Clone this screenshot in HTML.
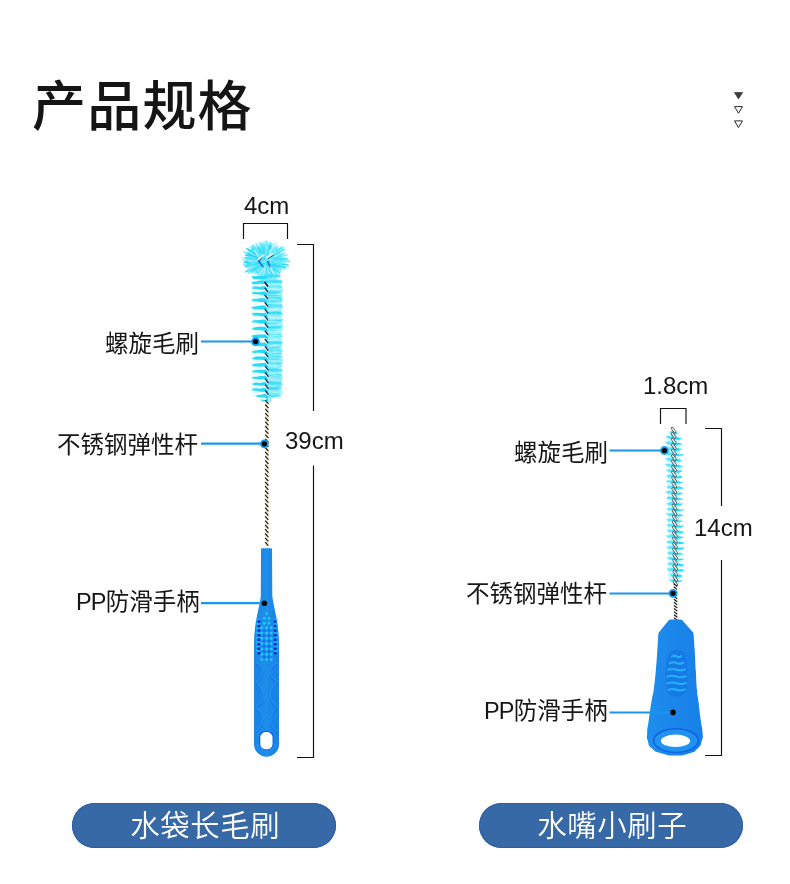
<!DOCTYPE html>
<html lang="zh-CN">
<head>
<meta charset="utf-8">
<title>产品规格</title>
<style>
html,body{margin:0;padding:0;background:#fff;}
body{width:790px;height:884px;overflow:hidden;position:relative;font-family:"Liberation Sans","Noto Sans CJK SC",sans-serif;color:#1a1a1a;}
#stage{position:absolute;left:0;top:0;width:790px;height:884px;overflow:hidden;background:#fff;}
#art{position:absolute;left:0;top:0;width:790px;height:884px;}
.t{position:absolute;white-space:nowrap;line-height:1;margin:0;font-weight:400;will-change:transform;}
h1.t{font-family:"Liberation Sans","Noto Sans CJK SC",sans-serif;font-weight:500;font-size:54px;left:32px;top:79.5px;letter-spacing:1.2px;color:#151515;}
.lab{font-size:23.5px;color:#161616;font-family:"Liberation Sans","Noto Sans CJK SC",sans-serif;}
.pp{letter-spacing:-.8px;}
.dim{font-size:24px;color:#161616;}
.pill{position:absolute;height:45px;width:264px;border-radius:23px;background:#3869a7;box-shadow:inset 0 0 0 1px #2c5ea3;}
.pill span{position:absolute;left:0;right:0;top:0;text-align:center;line-height:45px;font-size:29.4px;letter-spacing:.6px;padding-left:2.6px;color:#fff;font-weight:350;font-family:"Liberation Sans","Noto Sans CJK SC",sans-serif;will-change:transform;}
</style>
</head>
<body>
<div id="stage">
<svg id="art" width="790" height="884" viewBox="0 0 790 884">
<defs><filter id="b1" x="-20%" y="-20%" width="140%" height="140%"><feGaussianBlur stdDeviation="1.2"/></filter><filter id="b0" x="-20%" y="-10%" width="140%" height="120%"><feGaussianBlur stdDeviation=".45"/></filter><filter id="b00" x="-50%" y="-10%" width="200%" height="120%"><feGaussianBlur stdDeviation=".3"/></filter><radialGradient id="tuft"><stop offset="0" stop-color="#22d6f6" stop-opacity=".95"/><stop offset=".5" stop-color="#34ddf8" stop-opacity=".85"/><stop offset=".8" stop-color="#66e9fb" stop-opacity=".5"/><stop offset="1" stop-color="#a8f4fd" stop-opacity="0"/></radialGradient><linearGradient id="hL" x1="0" y1="0" x2="1" y2="0"><stop offset="0" stop-color="#1a86e6"/><stop offset=".5" stop-color="#1d8ee9"/><stop offset="1" stop-color="#1782e4"/></linearGradient><linearGradient id="hR" x1="0" y1="0" x2="1" y2="0"><stop offset="0" stop-color="#1e8eec"/><stop offset=".5" stop-color="#1b86ea"/><stop offset="1" stop-color="#1880e8"/></linearGradient></defs>
<path d="M243.5 239V223.5H287.5V239M297 244.5H313.5V411M313.5 465.5V757.5H297M660.5 424V408.5H686V424M705 428.5H721.5V506M721.5 560V755.5H705" fill="none" stroke="#111" stroke-width="1.15"/>
<path d="M734.4 92.5h8.2l-4.1 6.5z" fill="#3c3c3c" stroke="#2a2a2a" stroke-width=".6"/>
<path d="M734.5 106.6h8l-4 6.6zM734.5 120.9h8l-4 6.6z" fill="#fff" stroke="#2a2a2a" stroke-width="1"/>
<g id="brushL"><g filter="url(#b0)"><ellipse cx="265.2" cy="260.2" rx="23.5" ry="19.5" fill="url(#tuft)"/><path d="M263.6 267.1L260.6 273.2M262.5 265L261.1 272.9M262.6 261L247.2 262.5M264.4 262.7L258.7 271.7M272 262.3L287.3 264.8M264.9 269.4L264.5 278.2M270.3 261.6L282.7 265.6M267.1 255.9L266.7 241.7M258.7 258.8L248.4 255.4M267.7 257L270 245.8M272.6 259.5L282.6 258.9M267.3 256.7L280 253.8" stroke="#2adaf8" stroke-width="1.3" stroke-opacity="0.75" fill="none" stroke-linecap="round"/><path d="M266.9 261.6L281.5 267.2M262 259.8L251 258.9M261 260L249.2 257.6M265.3 257.4L267.1 244.9M261.4 260.7L250.7 257.4M266.6 262.8L268.8 277.7M267.8 262L268 273.3M266.3 267.7L266.9 272.4M269.1 257.8L282.8 248.4M260.3 255.4L252.9 248.2M260 264.8L255.6 272M258.5 262.2L251.5 263.7" stroke="#30ddf9" stroke-width="1.3" stroke-opacity="0.75" fill="none" stroke-linecap="round"/><path d="M262.9 263.6L247.3 271.6M271.7 262.6L288.5 265.1M271.6 260.1L289.9 261.4M262.7 251.1L260.3 243.6M267.8 261.3L276.4 270.8M263.1 265.2L258 273.1M271.2 263.7L280.3 271.2M268 263.3L275.3 272.9M264.5 265.2L264.5 275.7M260.8 253.8L256.9 249.3M269.7 265.7L276.4 274.6M270 253.3L273.4 248.2M266.6 252.1L266.6 247.8M269.8 262L276.9 264.6M263.8 257.3L254.8 247.7" stroke="#22d8f7" stroke-width="1.3" stroke-opacity="0.75" fill="none" stroke-linecap="round"/><path d="M261.6 258.6L253.1 253.5M269.6 257.8L282.9 255.3M265 257.1L264.1 244.8M270.6 259.8L286 255.9M268.4 260.6L283.5 259.1M261 257.8L246.7 252M268.9 263.9L273.6 277.7M270.8 254.1L275.2 244.4M265.4 257.2L266.8 245.8M267.2 267L270.6 274.4M271.5 264.2L283.7 270.7M261.8 256.1L252.1 245.3M262.9 262.4L254 272M264.1 257L261.8 248.9M270.7 263.7L279.1 268.9" stroke="#c9f8fe" stroke-width="1.3" stroke-opacity="0.45" fill="none" stroke-linecap="round"/><path d="M259.2 258.6L246.8 255.4M270.4 263.5L279.7 273.8M268.1 262.8L273.1 271.6M263.7 265.1L263.3 279.5M270.2 254.8L273.8 250.6M264.5 256.8L263.2 244.8M264.3 258.9L260.8 248.4M258.9 263.5L252.5 265M272 259.1L286.7 258.8M269.1 261.6L280.9 269.5M258.4 260.9L245.5 258M264.6 269L261.6 276.3M271.1 255.3L275.2 249.5M267 265.1L275.3 278.6M262.3 261.1L250.4 266.2" stroke="#1bd2f3" stroke-width="1.3" stroke-opacity="0.6" fill="none" stroke-linecap="round"/><path d="M269 263.1L279.8 270.6M272.1 254.7L281.4 247.9M265.5 256.3L265.5 243.8M270.5 258L276 253.2M258 266.5L253.2 271.4M261.1 267.8L258.6 272.3M267.6 257.6L273.5 248.5M261.5 256L254.7 247.6M263.2 258L253.5 253.6M271.7 257.8L284.1 251" stroke="#c9f8fe" stroke-width="1.3" stroke-opacity="0.6" fill="none" stroke-linecap="round"/><path d="M260.8 262.3L243.6 266.1M267.9 259.3L281.2 247.5M265.8 254L267 245.2M260.9 264.5L256.1 270.5M263 263.4L260.1 280.1M261.1 263L251.1 271.1M263.9 269.8L262.7 276.4M264.1 264.7L262.9 274.8M267.3 258.9L274.3 252.6M267.8 261.1L281.7 264.5M268.7 261.6L279.6 273.4M271.9 254.7L278.5 249.4M269.2 264.9L268.8 273.9" stroke="#1bd2f3" stroke-width="1.3" stroke-opacity="0.45" fill="none" stroke-linecap="round"/><path d="M257.8 256L249.2 251.6M262.7 258.2L259.9 249M269.8 252.3L273.2 244.1M270 258.3L283.7 249.2M262.8 260.3L249 267.8M274.4 262.4L282.3 265.5M264.4 263.8L260.9 275M271.6 256.1L280.2 249.4M269.7 264.1L279.1 267.9M260.7 264.6L251.5 272.1M257 258.5L246.6 254.1M268.6 260.6L286.2 261.1M262.5 261.9L251.8 273.2M259 259.2L251.1 256" stroke="#30ddf9" stroke-width="1.3" stroke-opacity="0.45" fill="none" stroke-linecap="round"/><path d="M260.9 257.2L245.9 249.8M268.7 263.5L278 275M264 260.4L276.2 260M270.2 254.8L280.6 246.5M272.5 259.9L282.2 255.6M268.4 270.7L269.1 275M266.3 258.8L273.1 247.1M260.7 264.9L255.6 271.3M260.7 259.1L249.1 256.3M266.5 255.6L268.8 244.4M257 262.5L250.8 263.5M265.4 255.6L270.1 246.6M260.7 268.3L254.5 278.9M266.8 258.2L273.6 247.8M264.5 269.7L262.8 278.1M269.6 261.2L286.6 261.9M265.7 268.6L266.1 276.7" stroke="#e6fcff" stroke-width="1.3" stroke-opacity="0.45" fill="none" stroke-linecap="round"/><path d="M267.8 255.7L275.8 243.2M263 268.1L261.6 276.4M262.9 252.9L260.2 242.3M270.5 266L273.1 270.3M267.1 259.4L279.5 251.8M261.7 256.4L253.3 247.9M270.1 255.7L273.2 248.7M258.3 257.9L245.3 254.7M259.4 264L252.7 269.5M265.9 270.6L266.9 278.8M266.8 264.4L268.2 273.5M264.7 259.2L262.6 247M257.9 261.6L251.5 263.3M273.3 258.9L280.7 256.1M276 263.8L289 267.7M260.7 263L243 259.6M269.3 256.3L275.1 247.6" stroke="#7aecfb" stroke-width="1.3" stroke-opacity="0.75" fill="none" stroke-linecap="round"/><path d="M260.2 255.7L247.8 249.2M269.3 255.9L283.2 246.4M268.2 258L275.5 252.2M263.1 264.4L258.3 277.8M266.7 264.3L271.4 278M261.6 256.7L251.4 248.9M269.5 251.6L271.7 246.6M265.9 259.3L259.6 251.3M256.7 257.1L248.4 252.4M261 255.6L254.3 249.2M263.8 266.7L264.1 275.7M262.4 257.8L252.2 245.9M263.3 255.5L261.7 246.1M265.4 259.2L252.4 248M259 264.2L245.5 271.4" stroke="#2adaf8" stroke-width="1.3" stroke-opacity="0.45" fill="none" stroke-linecap="round"/><path d="M270.2 258.3L279.7 254.6M271 260.4L281.6 258.5M262.7 269.7L259.5 275.7M271 262.3L287.2 258.4M258.4 260.9L252.5 258.9M263.1 257.7L252.5 244.5M267.7 254.6L273.1 246.1M265.9 255.7L268 244.1M271.8 264.3L285.6 269.4M269.6 261.1L286.6 262.8M267.7 266L270.7 271.9M267.8 259.9L278.9 248M256.9 259.4L248.8 256.9M265.8 255.5L268.8 242.5" stroke="#7aecfb" stroke-width="1.3" stroke-opacity="0.45" fill="none" stroke-linecap="round"/><path d="M263.9 252.2L263.4 245.5M271 256.6L278.9 251.5M271 258.1L276.9 255.5M265.4 261.8L262.4 275.5M260.5 260.1L250.7 256.6M261.4 259.2L250 249.4M262.8 266.9L260.8 270.8M270.1 260.4L281.8 262.2M273.2 261.6L282.1 262.9M270.9 262.4L281.2 266.2M266.4 264.6L271.3 277.1M262.1 256.9L253.7 250.7M262.1 265.6L258 270.8M263.7 256.7L248.8 249.4M265.5 266.6L271.6 278.6" stroke="#c9f8fe" stroke-width="1.3" stroke-opacity="0.75" fill="none" stroke-linecap="round"/><path d="M257.3 257.7L243.7 251.6M269.1 264.3L276.6 268.5M262.4 261.1L252.2 260.8M264.9 264.7L264.6 278.5M262.9 266.9L260.1 275.2M270.4 256.3L276.3 250.1M269.9 255.8L276.3 250.9M262.2 260.2L245.4 257.4M266.8 256.1L271.3 246.2M267.5 265.8L274.3 277M256.7 261.7L243.9 262.5M265.8 264.3L266.9 274.2M261.7 263.3L256.5 272.7M264.6 261.9L268.7 271.3M263 258.5L264.7 244.8M257.4 262.2L247.3 264M261.3 258.2L250.9 249.9M269.6 257.2L276.5 249.5M257.7 263.3L252 265.3M264.3 267.2L264.7 275.4M266.2 263.8L271.6 277.8" stroke="#22d8f7" stroke-width="1.3" stroke-opacity="0.6" fill="none" stroke-linecap="round"/><path d="M267.9 262.4L280.5 272M256.2 258.8L241.5 257.8M265.7 257.3L273.3 247.5M268.1 266.5L270.8 273.6M259.5 256.8L251.9 250.7M258.3 253.8L253.1 249.5M267.9 258L271 249.1M268.3 261.5L282 262.7M264.3 263.8L265.5 273.5M267.5 265.2L272.6 272.8M268.1 260.3L279.3 251.6M263.5 260.6L251.1 265.9" stroke="#55e4fa" stroke-width="1.3" stroke-opacity="0.45" fill="none" stroke-linecap="round"/><path d="M261.3 266.5L257.7 270.7M262.1 262.7L250.2 269.1M268.3 259.3L280.2 250.4M261.8 254.3L255.3 249.5M260.3 262L250.1 266.4M266.3 252.2L267.8 242.5M274.8 260.6L280.6 259.4M267.8 266L275.6 276.4M259.2 256.4L251.4 252.3M266.1 257.5L267.9 243.3M270.7 257L275.6 250.2M267.9 268.7L270 275.5M265.6 261.7L249.3 259.8" stroke="#e6fcff" stroke-width="1.3" stroke-opacity="0.6" fill="none" stroke-linecap="round"/><path d="M268.8 265.1L276.9 269.9M259.7 265.3L248.3 273.4M262.1 257.4L248.3 249.4M263.3 258.1L257.5 247.3M267.5 260.4L280.3 262.2M264.3 267.5L260.1 277.3M267.6 254L269.6 245.3M268 263.8L279 276.3M258.7 254.2L255.1 250.6M259.9 266.6L253.7 271.8M268.6 257.3L285.1 249.3M269.4 265.8L276.4 276.3M265.4 266.7L265.1 274.3M264.8 258.4L268.6 247.6M264.4 259.7L254.3 268.1M262 265.1L257 271.1M268.1 257.2L276 249M265.3 261.4L274.7 270.4" stroke="#55e4fa" stroke-width="1.3" stroke-opacity="0.75" fill="none" stroke-linecap="round"/><path d="M265.2 261.9L260.9 275.9M264.9 259.7L253 255.9M264.7 266.3L261.1 275.9M266.6 258.8L277.7 251.8M272.8 263.5L283.3 266.9M268.7 258.6L281.7 257.5M265.6 264.5L273 274.5M264 258.7L265.3 240.8M272 261L280.9 260.8M258.8 260.5L248.6 259.8M272.6 263L284.5 268.4M269.1 257L278.2 248.9M255.8 258.8L248.5 255.6M264.5 258.7L257.5 251.4M273.5 263.4L286 268.4M260.4 265.8L253.3 271.8M270.6 255.2L277.5 246.5M269.1 254.5L272.6 250.8M269.4 263.1L280.6 267.1" stroke="#55e4fa" stroke-width="1.3" stroke-opacity="0.6" fill="none" stroke-linecap="round"/><path d="M265.6 257.2L271.7 243.9M259 256.4L246.9 249.3M261.8 266.3L260.6 275.4M271.7 262.5L283.4 264.9M268 253.4L271.1 246.8M260.1 264.9L252.9 270M275.1 257.6L287.9 254.8M259.9 252.9L255.3 246.9M265.2 255.2L262.9 242M261.4 253.4L256 243.6M257.8 253.9L250.2 246.6M263.6 252.2L261.5 244.1" stroke="#22d8f7" stroke-width="1.3" stroke-opacity="0.45" fill="none" stroke-linecap="round"/><path d="M265.2 256.7L268.3 244.6M273.4 264.4L278.9 265.7M264.2 268.8L262.3 282.1M261.2 263.3L254.7 270.1M264.9 262.7L272.7 276.6M263.2 264.3L258.1 272.8M262.5 254.5L258.8 246.9M272.3 258.7L287.1 259.6M258 265.1L245 272.2M260.4 263.4L249.7 271.1" stroke="#2adaf8" stroke-width="1.3" stroke-opacity="0.6" fill="none" stroke-linecap="round"/><path d="M274.1 260.1L281.6 259.4M266.1 263.9L285.4 267.3M260.8 257.6L245.7 255.1M260.2 261.9L244.5 262M265.4 264.2L262.2 280M265.9 266.5L267.8 275.9M260.7 260.9L246.2 267M259.9 257.2L246.8 248.6M261.6 262.5L246 266.2M261 260.3L247.8 253.6M267.6 256L270.4 242.3M270.1 258.2L279.1 251.7M264.2 259.2L259.2 251.1M267.3 264L274.1 270.7" stroke="#1bd2f3" stroke-width="1.3" stroke-opacity="0.75" fill="none" stroke-linecap="round"/><path d="M263.4 268.3L259.4 276.1M268.2 258.5L275.4 252M269.2 254.1L274.5 242.9M269.5 265L274.3 274.4M259.5 260.8L248.4 260.9M265.4 265.5L262.7 279.5M259.5 258.8L255.1 250.8" stroke="#e6fcff" stroke-width="1.3" stroke-opacity="0.75" fill="none" stroke-linecap="round"/><path d="M263.7 258.7L256.5 249.5M263.8 258.3L252.7 245.8M263.2 254.6L263.5 247.4M255.5 262.2L244 264.7M274 260L287 258.4M258.5 260.1L247.2 259.8M266.8 251.5L268.4 246.5M273.6 258.3L285.2 253.2M269.3 261L282.7 262.5M264.5 258L261.9 246.6" stroke="#30ddf9" stroke-width="1.3" stroke-opacity="0.6" fill="none" stroke-linecap="round"/><path d="M274.7 260.2L290 259.2M266.2 266.9L266.6 276M263.9 266.5L262.7 277M274.2 261.2L284.5 262.3M265.5 263.6L269.5 279.4M266.9 256.9L267 241M268.8 259.2L279.3 255.3M258.3 262.1L249.8 262.3M266.4 254.8L269.2 249.5M270.5 260.3L282.2 264.3M263.7 256.8L254.5 246.7M256.6 262.7L251.1 264M262.1 250.8L259.6 242.4M269.2 259L276.7 245.6M270.1 256.4L282.2 249.1M265.5 254.5L266.7 245.9M263.9 264.2L258.3 275.8M269.1 257.8L275.9 250.7M261.6 262.7L248.3 271M265.6 258.1L268.4 247.7" stroke="#7aecfb" stroke-width="1.3" stroke-opacity="0.6" fill="none" stroke-linecap="round"/><path d="M266.4 274L276.7 274L278.2 275.7L277.4 277.5L276.9 279.5L281.5 281.1L282.5 282.7L281.7 284.4L281.5 286.1L282.7 288.2L283.4 290.3L282.1 292.1L282.4 294.3L282.3 295.9L282.9 297.2L281.3 299.1L282.9 301.2L281.2 303.1L281.5 305.1L282.8 306.3L283 308.2L281.6 309.6L281.3 311.7L283.1 313.8L281.6 315.8L281.4 317.7L283.2 319.2L282.1 320.8L282.3 322.8L282.7 324.6L283.5 326.7L282.1 328.1L282.9 330.1L281.3 332.2L282.3 334.1L282.1 336.3L281.3 338.4L281.7 339.9L281.6 341.7L282 343.6L282 345.4L281.3 347.3L282.2 349.3L283.2 351.1L281.4 352.9L282.1 354.6L282.4 356.7L283 358.5L282.6 359.8L282.9 361.6L282.1 363.7L283 365.6L280.7 367.5L282.5 369L282.8 370.5L282.3 372.2L282 374.4L281.7 375.8L282.7 377.3L281.2 379L282 380.7L281.9 382.7L281.9 384.4L281.9 385.8L282.1 387.9L280.7 389.6L282.2 391.7L277.3 393.5L278.7 394.8L277.5 396.3L271.8 398.4L271.6 400L271.7 401.8L267 403Z" fill="#74e9fb" opacity=".7"/><path d="M266.4 276L252.5 279L251.5 396L267 402Z" fill="#c6f7fd" opacity=".3"/><path d="M266.9 275.5L263.3 275.9L259.9 276.1L256.4 276.3L252.2 276L250.6 276.4L253.7 276.9L251.2 277.2L253.7 277.8L251.3 278.1L253.4 278.6L251.9 278.8L256.3 279.3L259.4 279L263.4 279.5L266.9 279.5ZM266.9 280.6L263.2 280.6L259.8 280.6L256.2 281.4L252.1 281.7L250.7 281.6L252.8 282.1L250.6 282.4L252.7 282.9L251 283.2L252.9 283.7L252.6 284.2L256 284.3L259.6 283.8L263.2 284.2L266.9 284.6ZM266.9 285.8L263.5 286.2L259.9 286.7L255.9 286.5L253 286.6L251.8 286.8L254 287.2L250.7 287.6L253.8 288.1L251.6 288.4L253 288.9L253.2 289.1L255.9 288.7L260.1 289.8L263.5 289.8L266.9 289.8ZM267 291.3L263.3 291.6L259.8 292.1L256.6 292.2L252.6 291.8L251.2 292.2L254 292.8L250.7 293.1L253.7 293.6L251.6 293.9L253.8 294.4L253.1 294.1L255.9 294.3L259.7 294.6L263.3 295.2L267 295.3ZM267 298.3L263.2 298.2L259.7 298.3L256.2 299.1L252.6 298.7L251.5 299.2L253.9 299.8L250.3 300.1L253.5 300.6L251.4 300.9L252.9 301.4L252 301L255.7 301.3L260 302.1L263.4 301.9L267 302.3ZM267 305.6L263.3 305.4L259.8 305.7L255.6 306.6L252.1 306.8L250.6 306.6L252.9 307.1L250 307.4L253.8 307.9L251 308.2L253.2 308.7L252.8 309.2L256 308.9L259.9 309.5L263.5 309.5L267 309.6ZM267.1 312.5L263.6 313.1L259.9 313.1L256.2 312.8L253 313L250.7 313.4L253.7 313.9L251.2 314.2L254.1 314.8L251.8 315.1L254.3 315.6L252.3 316L256.8 315.5L260 316.1L263.6 316.6L267.1 316.5ZM267.1 319.4L263.3 319.5L259.7 320.1L255.6 320.2L252.7 320.5L251 320.4L253.4 320.9L250.5 321.2L254.2 321.7L251.2 322L252.8 322.5L251.7 322.6L256.1 322.6L259.7 323.4L263.3 323.4L267.1 323.4ZM267.1 326.7L263.6 326.7L259.7 326.7L256.3 326.9L252.7 328L251.5 327.6L253.5 328.1L250.7 328.4L254.1 328.9L251.3 329.2L254.2 329.8L252.1 329.4L256 330.3L259.5 330.1L263.3 330.8L267.1 330.7ZM267.2 334.1L263.7 334.5L259.9 334.6L256.1 334.8L252.9 335L251.4 335.1L253.4 335.6L251.1 335.9L253.1 336.4L250.7 336.7L254.7 337.2L253.1 337.3L256.4 337.9L259.7 337.8L263.7 337.9L267.2 338.1ZM267.2 342.3L263.4 342.7L259.9 342.5L256.2 343.4L252.6 343.4L250.4 343.2L252.7 343.8L251.5 344.1L253.9 344.6L251.2 344.9L253.3 345.4L252.6 345.3L256.3 346L259.8 346.3L263.4 346.1L267.2 346.3ZM267.3 349.7L263.5 349.6L259.7 349.8L256.4 350.4L252.8 350.9L251.1 350.6L253.5 351.1L251.1 351.4L253.9 351.9L250.8 352.2L253.5 352.8L252.8 353.2L256.2 352.7L259.8 352.8L263.7 353.6L267.3 353.7ZM267.3 356.2L263.9 356.6L260.5 356.4L256.2 356.6L253.6 357.4L250.9 357.1L253.7 357.6L251.7 357.9L253.3 358.4L251.6 358.8L253.8 359.2L253.3 359.2L256.2 359.8L260.3 359.7L263.7 359.9L267.3 360.2ZM267.3 362.8L263.7 363L260 363.2L256.6 363.5L253 364L250.9 363.8L254.6 364.2L251.5 364.6L253.2 365.1L250.7 365.4L253.5 365.9L252.7 366.2L256.9 366.4L260 366.8L263.6 366.3L267.3 366.8ZM267.4 369.4L263.8 369.8L260.2 369.7L256.4 370.1L253.2 370.5L251.7 370.4L253.7 370.9L251.4 371.2L253.3 371.7L251.2 372L254.4 372.5L253.3 372.5L257 372.4L260.1 373.1L263.7 373.2L267.4 373.4ZM267.4 375.7L263.6 375.9L260 375.9L256.6 376.7L253.1 376.7L250.5 376.6L254.4 377.1L251 377.4L252.9 377.9L251.5 378.2L254.4 378.8L253.2 378.7L256.4 378.9L259.7 379.4L263.6 379.1L267.4 379.7ZM267.4 382.1L263.7 382L260.2 382.9L256.8 382.6L252.5 383.1L251 383.1L254.6 383.6L251.8 383.9L253.9 384.4L252 384.7L254.2 385.2L253.1 384.9L256.1 385.1L260.1 385.7L263.9 385.8L267.4 386.1ZM267.4 387.9L263.9 387.7L259.8 388.7L256.8 388.3L252.8 388.5L251.5 388.9L254.7 389.4L251 389.7L253.6 390.2L250.9 390.5L253.3 391L253.1 390.7L256.1 390.8L260.3 391.8L263.7 391.7L267.4 391.9ZM267.5 393.9L264.9 393.8L262.2 394.6L259.3 394.9L256.7 395L255.8 394.9L257.7 395.4L255.5 395.7L257.7 396.2L254.9 396.5L258.5 397L257.2 397.5L259.7 396.9L262.3 397.6L264.8 397.4L267.5 397.9ZM267 399.6L265.5 400L264 399.9L262.8 400L261.4 399.5L260.5 399.9L262.1 400.4L260.3 400.2L262.1 400.8L260.2 400.6L262.7 401.1L261.3 400.9L262.8 401.4L264.1 401.4L265.6 401.5L267 401.4Z" fill="#1bdaf8" opacity=".95"/><path d="M266.4 274.4L269.8 274.1L273.5 274.6L276.4 274.8L280.7 274.9L281.6 275.2L278.9 275.7L281.4 275.9L278.9 276.4L281.1 276.7L279.1 277.2L280.7 277.2L276.9 277.2L273.4 277.4L269.9 278.3L266.4 278ZM266.4 279.5L270.1 279.8L273.8 279.6L277.3 280.5L281.8 280.1L282.4 280.3L281 280.8L283.4 281.1L279.5 281.6L283.6 281.8L280.5 282.3L280.8 282L277.6 282.7L274.2 282.8L270.2 282.5L266.4 283.1ZM266.4 284.7L269.9 285.2L273.8 285.2L277.3 285.4L280.9 285.4L282.5 285.5L279.6 286L282 286.2L280 286.8L282.6 287L280.6 287.5L281.3 287.7L277.2 287.9L273.7 287.8L270 288.3L266.4 288.3ZM266.5 290.2L270 290.6L273.4 290.6L277.1 291L280.8 291.4L282.2 291L278.8 291.5L282.3 291.8L278.9 292.2L281.6 292.5L279.5 293L280.6 293.3L277.4 293.3L273.8 293.4L270 293.8L266.5 293.8ZM266.5 297.2L270.5 297.6L273.9 297.4L277.8 297.8L282 297.9L283.5 298L280.3 298.5L283.3 298.8L281.1 299.2L283.3 299.5L280.7 300L281.3 300.4L277.8 300L274.3 299.9L270.5 300.5L266.5 300.8ZM266.5 304.5L270.3 305L274.3 305.1L277.8 304.8L282.1 305.3L283 305.3L280.4 305.8L282.9 306.1L281.2 306.6L283.3 306.8L281 307.3L282 307.5L277.6 307.5L274.3 307.5L270.2 307.9L266.5 308.1ZM266.6 311.4L270.3 311.9L274 311.4L278.5 311.8L281.7 312.6L283.2 312.2L280.2 312.7L283.8 312.9L281.1 313.4L283.8 313.7L280.5 314.2L282.4 314.5L278.1 314.8L274.4 315.1L270.3 314.5L266.6 315ZM266.6 318.3L270.6 318.3L274.2 319.1L278.3 319.2L282.4 318.8L283.2 319.1L282 319.6L283.7 319.9L280.4 320.4L283.5 320.6L281.1 321.1L281.7 320.8L277.9 320.9L274.1 321.1L270.6 321.8L266.6 321.9ZM266.6 325.6L270 326L273.4 325.9L277.2 326.5L280 325.9L281.6 326.4L279.2 326.9L282.4 327.1L279.6 327.6L281.8 327.9L279.6 328.4L280.6 328.8L276.7 329.1L273.6 328.5L270.1 329.3L266.6 329.2ZM266.7 333L270.3 333L273.8 333.6L277.5 334L281.1 334.1L282.3 333.8L279.9 334.3L282.5 334.6L279.7 335.1L282.7 335.3L280.1 335.8L281.2 336.2L277.1 335.7L273.9 335.7L270.2 335.9L266.7 336.6ZM266.7 341.2L270.6 341.9L274.1 341.4L277.8 341.3L282.5 341.8L283.4 342L280.8 342.5L284.2 342.8L281.5 343.2L283 343.5L280.5 344L282.5 344.2L277.8 344.5L274.3 344.3L270.4 345L266.7 344.8ZM266.8 348.6L270.4 349L273.7 349.4L277.2 348.8L281.7 349.9L282.8 349.4L281 349.9L282.4 350.1L280 350.6L282.9 350.9L280 351.4L281.8 351.4L277.9 352L273.7 352.3L270.5 352.5L266.8 352.2ZM266.8 355.1L270.2 355.7L273.7 355.9L277 355.4L280.2 356.4L282 355.9L278.7 356.4L282.4 356.6L278.5 357.1L282 357.4L279.8 357.9L280.4 357.4L277.1 358L273.5 358.5L270.1 358.7L266.8 358.7ZM266.8 361.7L270.6 361.8L274.2 362.2L278.3 361.9L281.8 362.4L282.7 362.5L281 363L282.9 363.2L280.1 363.8L282.6 364L280.1 364.5L281.1 364.9L278.2 364.8L274.4 364.7L270.5 365.5L266.8 365.3ZM266.9 368.3L270.4 368.6L273.8 368.5L277.8 368.7L281.4 369.5L282.6 369.1L280.7 369.6L282.8 369.9L280.2 370.4L282.9 370.6L281 371.1L280.9 371.5L277.5 371.6L274.3 371.7L270.4 371.2L266.9 371.9ZM266.9 374.6L270.5 375L273.8 375.5L277 374.8L280.6 375L282.6 375.4L280.5 375.9L281.9 376.1L280.2 376.6L282.3 376.9L278.9 377.4L280.5 377.2L277.2 377.6L273.6 378.1L270.4 377.5L266.9 378.2ZM266.9 381L270.3 381.1L274.1 381.6L277.2 381.4L280.7 381.7L282.4 381.8L280.1 382.3L281.9 382.6L280.3 383.1L282.6 383.3L279 383.8L281 384L277.1 384.4L273.8 384.2L270.5 384.6L266.9 384.6ZM266.9 386.8L270.1 387.2L273 386.9L276.5 387.7L279.8 387.6L280.5 387.6L277.8 388.1L281.2 388.4L278.2 388.9L280.9 389.1L278.8 389.6L279 389.1L276.1 390.1L273.3 389.9L270.1 390.6L266.9 390.4ZM267 392.8L270.1 392.8L273.2 392.7L276.3 393.6L279.3 393.8L281.1 393.6L279.2 394.1L281.1 394.4L279.3 394.9L281.5 395.1L277.7 395.6L280.1 395.3L276.3 395.6L273.3 396.3L270.1 396.2L267 396.4Z" fill="#2fdcf8" opacity=".8"/><path d="M268 293.4L276.6 293.3M268.5 392L278.4 391.6M268.1 323.7L277.1 323.8M267.9 281.8L282.3 282.5M268.5 391.9L279 390.8M268.4 374.2L279.4 374.3M268.3 354.4L281.9 353.4M268.2 338.6L281.3 337.7M268.2 349.9L279.8 350.1M268.1 312.3L280.7 312M268.4 385.9L280.4 385.4M268 300.9L282.4 301M268.3 367.4L281.3 366.5M268.3 369.6L277.7 368.6M268.3 358.7L280.4 359.7M268.4 376.2L276.3 376.2M268.5 396.4L280.7 396.4M268 302.3L277.8 301.5M268.1 323.1L277.9 322.5M268 304.3L282.2 304.3M268.1 313.2L279.5 313.8M268.1 312.8L278.2 312.8M268.4 384.2L276.6 385M268 297.1L280.9 297.5M268.3 359.5L280 358.8M268.4 387L281.4 387.9M268 295.6L280.6 295.9M268.2 334.5L281.2 333.9M268.1 327.6L279.4 327M268.2 348.5L278.9 347.8M268.2 330.1L275.9 330.8M268.2 342.9L277.5 342.2M268.5 392.5L283.1 393.2M268.3 366.4L277 365.5M267.9 281.5L277 280.4M268.1 320.3L279.7 320.2M268 295L276.9 295.2M268.4 389.5L281 390.2M268.2 347.8L281 347.1M268 303.8L275.5 302.7M267.9 285.3L279.5 284.7M268.3 358.7L280.3 358.5M268.3 357.4L277.3 358.5M268 299.3L276.7 299.9" stroke="#1fd6f6" stroke-width=".8" stroke-opacity=".7" fill="none"/><path d="M267.9 284L279.2 283.8M268.2 339L279.6 338.6M268 309.3L279.7 309.3M268 300.4L281.6 300.2M268.3 354.3L276.6 353.3M268.2 348.8L277.5 349.6M267.9 288.7L277.9 287.6M268.3 361.6L281 362.8M268.1 319.3L276.1 318.5M268.4 378.6L282.7 379.2M268.3 350.6L280.5 349.6M268.5 391.1L282.4 390.8M268.2 338.2L275.8 339.1M268.5 395.2L278.8 394M268.3 358.2L281.2 359.4M268.3 362.3L275.9 362.4M268.2 349.9L280 351.1M268 308.8L281.2 308.6M268.4 379.2L279.5 379.9M268.1 321.3L276.6 320.5M268.1 318.2L278.8 318.6M268.5 395.1L280.6 395.8M268.5 390L276.4 390.9M268.3 359.9L281.3 360.9M267.9 287L278.7 285.9M268.4 374.4L277.4 373.8M267.9 287.5L280 287.7M268.1 319.2L282.8 319.5M268 303.1L280.9 303M268.5 392.8L282.7 391.8M268.4 376.8L283 376.7M267.9 285.1L281.9 286M268.1 322.2L282 322.4M268.3 368.3L276.1 369.2M268 298.3L275.6 298.9M268 299.4L279.2 299.4M268.5 393.9L278.8 392.8M267.9 283.5L280.1 283.5M268.3 353.8L280.1 354.3M267.9 280.9L280.8 280.2M268 290.5L277.2 289.5M268.3 367.2L281.7 368M268 309.7L278.6 309.3M268.1 320.1L276.1 321.2M268.1 328.5L282.3 328.8M268 305.9L281 306.5" stroke="#9ff3fd" stroke-width=".8" stroke-opacity=".7" fill="none"/><path d="M268.3 362.9L278.8 361.9M268.3 366.6L281.2 365.8M268.3 353.6L280.8 353.2M268.4 378.2L281.6 378.8M268.4 373.3L281.7 374.1M268.1 328.3L276.3 328.7M268.4 387.6L279.1 386.4M268.2 336.6L278.7 336.5M268.1 319.9L277.2 319.7M268.2 335.4L275.9 334.5M268.3 354.3L279 353.9M268.3 369.2L276.1 369.2M267.9 280.8L282.2 280M268 300.7L279.8 301M268.5 396L278.6 395.6M268.3 367.9L277.1 368.8M268.2 349.9L282.8 351M268.1 328.6L276.8 327.5M268.1 314.3L280.2 314.2M267.9 281.4L279.3 281M268.1 326.9L282.5 326.7M268.4 387.3L276.9 387.7M268.1 312.7L276.1 313M268.4 387.6L278.2 388M268.5 396L281.8 394.9M268.2 341.6L276.6 340.9M268 300.6L281.4 300.4M268.4 383.3L283.2 384.4M268 303.9L281 304.5M268 304.5L275.6 304.6M268.3 354.7L279.9 355.9M268.1 320.8L281.9 321.5M268.2 336.1L282.9 336.8M268.3 352.9L276.4 353.3M268.1 312.6L277.8 311.8M268.1 315.8L278.1 315.5M268.4 379.6L283.2 379M268.2 344.7L278.3 343.5M268.4 371.7L277.6 372.5M268.2 343.3L276.5 343.1" stroke="#3fe0f9" stroke-width=".8" stroke-opacity=".7" fill="none"/><path d="M268.1 311.1L276.3 310.2M268.5 397.6L282.6 398.5M268.3 363.5L277.4 362.5M268.4 376.5L279.3 375.3M268.4 373.8L277 373M268.1 321L276.6 322M268.3 365.4L278.4 366.1M268.4 379.1L281.8 378.9M268.4 373.2L281.7 372.6M268.2 344L277.5 344.5M267.9 284.9L281.4 284.7M268.1 319.6L276.7 318.9M268.1 317.9L282 318.8M268.2 333.3L281.1 333.8M268.5 391.9L277.9 392.8M268.3 364.7L282.6 365.1M268.2 339.5L278.2 340M268.3 366.7L281.6 365.9M268.4 378.5L276.7 378M268.5 391.4L283 390.7M268.3 353.3L276.6 352.7M268 303.5L280.7 304.2M268.1 316.4L275.9 316.8M268.2 336.7L281.7 337.5M268 310L275.7 310.5M268.3 356.1L277.3 355.4M268.3 357.6L282.1 358.1M268.2 335.9L282.1 335M268.2 339.3L278.5 340M268.4 385.8L276 386.1M268 308.6L282.3 309.3M268.4 385L276.6 385.7M268.2 340.3L281.8 339.4M268.3 352.2L282.9 351M267.9 288.9L276.3 289M268.2 334.2L278.6 335.2M268.3 365.3L276 366.1M268.2 331.3L282.1 331.5M268.1 314.9L277.4 314.3M268 299.2L279.4 300.2" stroke="#c8f9fe" stroke-width=".8" stroke-opacity=".7" fill="none"/></g><g filter="url(#b00)"><path d="M266.4 284L267 401" stroke="#19bfe9" stroke-width="2.2" fill="none" opacity=".6"/><path d="M264.4 284L267.2 287.6M264.5 289.5L267.3 293.1M264.5 296.5L267.3 300.1M264.5 303.8L267.3 307.4M264.6 310.7L267.4 314.3M264.6 317.6L267.4 321.2M264.6 324.9L267.4 328.5M264.7 332.3L267.5 335.9M264.7 340.5L267.5 344.1M264.8 347.9L267.6 351.5M264.8 354.4L267.6 358M264.8 361L267.6 364.6M264.9 367.6L267.7 371.2M264.9 373.9L267.7 377.5M264.9 380.3L267.7 383.9M264.9 386.1L267.7 389.7M265 392.1L267.8 395.7M264.4 283.1L267.2 286.7" stroke="#fdf1ea" stroke-width="1.25" fill="none" stroke-linecap="round"/><path d="M264.8 282.8L267.6 286.4M264.9 288.3L267.7 291.9M264.9 295.3L267.7 298.9M264.9 302.6L267.7 306.2M265 309.5L267.8 313.1M265 316.4L267.8 320M265 323.7L267.8 327.3M265.1 331.1L267.9 334.7M265.1 339.3L267.9 342.9M265.2 346.7L268 350.3M265.2 353.2L268 356.8M265.2 359.8L268 363.4M265.3 366.4L268.1 370M265.3 372.7L268.1 376.3M265.3 379.1L268.1 382.7M265.3 384.9L268.1 388.5M265.4 390.9L268.2 394.5M264.8 281.9L267.6 285.5" stroke="#13235c" stroke-width="1.2" fill="none" stroke-linecap="round"/></g><g filter="url(#b00)"><path d="M257.600 260.2L260.3 257.2Q262 255.3 264.2 254.900M267.1 257.400Q269.5 255 272.3 253.8" stroke="#f6e2d8" stroke-width="1.5" fill="none" stroke-linecap="round"/><path d="M257.9 261L260.8 257.9M267.5 258.1L272.6 254.5" stroke="#10235e" stroke-width=".8" fill="none" stroke-linecap="round" transform="translate(.6 .8)"/><path d="M258.4 260.8L262.9 266.5M267.8 261.5L270 266.5" stroke="#1545b0" stroke-width="1.6" fill="none" stroke-linecap="round" opacity=".75"/></g><g filter="url(#b00)"><path d="M266.9 402L266.7 548" stroke="#f4ebcd" stroke-width="2" fill="none" opacity=".75"/><path d="M265.9 402.3L268.2 405.4M265.8 406.6L268.2 409.7M265.8 410.9L268.2 414M265.8 415.2L268.2 418.3M265.8 419.5L268.2 422.6M265.8 423.8L268.2 426.9M265.8 428.1L268.2 431.2M265.8 432.4L268.2 435.5M265.8 436.7L268.2 439.8M265.8 441L268.2 444.1M265.8 445.3L268.2 448.4M265.8 449.6L268.2 452.7M265.8 453.9L268.2 457M265.8 458.2L268.2 461.3M265.8 462.5L268.2 465.6M265.8 466.8L268.2 469.9M265.8 471.1L268.2 474.2M265.7 475.4L268.1 478.5M265.7 479.7L268.1 482.8M265.7 484L268.1 487.1M265.7 488.3L268.1 491.4M265.7 492.6L268.1 495.7M265.7 496.9L268.1 500M265.7 501.2L268.1 504.3M265.7 505.5L268.1 508.6M265.7 509.8L268.1 512.9M265.7 514.1L268.1 517.2M265.7 518.4L268.1 521.5M265.7 522.7L268.1 525.8M265.7 527L268.1 530.1M265.7 531.3L268.1 534.4M265.7 535.6L268.1 538.7M265.7 539.9L268.1 543M265.7 544.2L268.1 547.3" stroke="#f4ebcd" stroke-width="1.3" fill="none" stroke-linecap="round"/><path d="M265.2 400.2L268.5 403.8M265.2 404.5L268.5 408.1M265.2 408.8L268.5 412.4M265.2 413.1L268.5 416.7M265.2 417.4L268.5 421M265.2 421.7L268.5 425.3M265.2 426L268.5 429.6M265.2 430.3L268.5 433.9M265.2 434.6L268.5 438.2M265.2 438.9L268.5 442.5M265.2 443.2L268.5 446.8M265.2 447.5L268.5 451.1M265.2 451.8L268.5 455.4M265.2 456.1L268.5 459.7M265.2 460.4L268.5 464M265.2 464.7L268.5 468.3M265.2 469L268.5 472.6M265.1 473.3L268.4 476.9M265.1 477.6L268.4 481.2M265.1 481.9L268.4 485.5M265.1 486.2L268.4 489.8M265.1 490.5L268.4 494.1M265.1 494.8L268.4 498.4M265.1 499.1L268.4 502.7M265.1 503.4L268.4 507M265.1 507.7L268.4 511.3M265.1 512L268.4 515.6M265.1 516.3L268.4 519.9M265.1 520.6L268.4 524.2M265.1 524.9L268.4 528.5M265.1 529.2L268.4 532.8M265.1 533.5L268.4 537.1M265.1 537.8L268.4 541.4M265.1 542.1L268.4 545.7" stroke="#1b1812" stroke-width="1.2" fill="none"/></g><path d="M261 549Q261 548.2 262 548.2H271Q272 548.2 272 549L272.3 596C273.2 604 276.6 616 278 628Q279 636 279 646V744.2A12.5 12.5 0 0 1 254 744.2V646Q254 636 255 628C256.4 616 260 604 260.8 596Z" fill="url(#hL)"/><g filter="url(#b00)"><g fill="#1568e4" opacity=".8"><circle cx="264.2" cy="630.4" r="1.25"/><circle cx="269" cy="630.4" r="1.25"/><circle cx="264.2" cy="635.7" r="1.25"/><circle cx="269" cy="635.7" r="1.25"/><circle cx="264.2" cy="641" r="1.25"/><circle cx="269" cy="641" r="1.25"/><circle cx="264.2" cy="646.3" r="1.25"/><circle cx="269" cy="646.3" r="1.25"/><circle cx="264.2" cy="651.6" r="1.25"/><circle cx="269" cy="651.6" r="1.25"/><circle cx="264.2" cy="656.9" r="1.25"/><circle cx="269" cy="656.9" r="1.25"/></g><g fill="#1fd2f6"><circle cx="266.6" cy="613.5" r="1.3"/><circle cx="264.2" cy="618.3" r="1.3"/><circle cx="269" cy="618.3" r="1.3"/><circle cx="264.2" cy="623.2" r="1.3"/><circle cx="269" cy="623.2" r="1.3"/><circle cx="261.8" cy="627.8" r="1.35"/><circle cx="266.6" cy="627.8" r="1.35"/><circle cx="271.3" cy="627.8" r="1.35"/><circle cx="261.8" cy="633.1" r="1.35"/><circle cx="266.6" cy="633.1" r="1.35"/><circle cx="271.3" cy="633.1" r="1.35"/><circle cx="261.8" cy="638.4" r="1.35"/><circle cx="266.6" cy="638.4" r="1.35"/><circle cx="271.3" cy="638.4" r="1.35"/><circle cx="261.8" cy="643.7" r="1.35"/><circle cx="266.6" cy="643.7" r="1.35"/><circle cx="271.3" cy="643.7" r="1.35"/><circle cx="261.8" cy="649" r="1.35"/><circle cx="266.6" cy="649" r="1.35"/><circle cx="271.3" cy="649" r="1.35"/><circle cx="261.8" cy="654.3" r="1.35"/><circle cx="266.6" cy="654.3" r="1.35"/><circle cx="271.3" cy="654.3" r="1.35"/><circle cx="261.8" cy="659.6" r="1.35"/><circle cx="266.6" cy="659.6" r="1.35"/><circle cx="271.3" cy="659.6" r="1.35"/></g><g fill="#22c4f4" opacity=".9"><circle cx="257.1" cy="619.4" r="1"/><circle cx="259" cy="619.3" r=".9"/><circle cx="276.9" cy="619.4" r="1"/><circle cx="275.2" cy="619.3" r=".9"/><circle cx="257.1" cy="623.9" r="1"/><circle cx="259" cy="623.9" r=".9"/><circle cx="276.9" cy="623.9" r="1"/><circle cx="275.2" cy="623.9" r=".9"/><circle cx="256.6" cy="628.4" r="1"/><circle cx="259" cy="628.4" r=".9"/><circle cx="277.4" cy="628.4" r="1"/><circle cx="275.2" cy="628.4" r=".9"/><circle cx="256.6" cy="633" r="1"/><circle cx="259" cy="632.9" r=".9"/><circle cx="277.4" cy="633" r="1"/><circle cx="275.2" cy="632.9" r=".9"/><circle cx="256.6" cy="637.5" r="1"/><circle cx="259" cy="637.4" r=".9"/><circle cx="277.4" cy="637.5" r="1"/><circle cx="275.2" cy="637.4" r=".9"/><circle cx="256.6" cy="642" r="1"/><circle cx="259" cy="641.9" r=".9"/><circle cx="277.4" cy="642" r="1"/><circle cx="275.2" cy="641.9" r=".9"/><circle cx="256.6" cy="646.5" r="1"/><circle cx="259" cy="646.5" r=".9"/><circle cx="277.4" cy="646.5" r="1"/><circle cx="275.2" cy="646.5" r=".9"/><circle cx="256.6" cy="651" r="1"/><circle cx="259" cy="651" r=".9"/><circle cx="277.4" cy="651" r="1"/><circle cx="275.2" cy="651" r=".9"/></g><g fill="#0a1fc6"><circle cx="259" cy="621.6" r="1.25"/><circle cx="275.2" cy="621.6" r="1.25"/><circle cx="259" cy="626.1" r="1.25"/><circle cx="275.2" cy="626.1" r="1.25"/><circle cx="259" cy="630.6" r="1.25"/><circle cx="275.2" cy="630.6" r="1.25"/><circle cx="259" cy="635.2" r="1.25"/><circle cx="275.2" cy="635.2" r="1.25"/><circle cx="259" cy="639.7" r="1.25"/><circle cx="275.2" cy="639.7" r="1.25"/><circle cx="259" cy="644.2" r="1.25"/><circle cx="275.2" cy="644.2" r="1.25"/><circle cx="259" cy="648.7" r="1.25"/><circle cx="275.2" cy="648.7" r="1.25"/><circle cx="259" cy="653.2" r="1.25"/><circle cx="275.2" cy="653.2" r="1.25"/></g></g><g filter="url(#b00)"><path d="M255.600 663.5C259 665.5 263 669.4 263 673.2C263 677.1 259 681 255.6 683M277.600 663.5C274.2 665.5 270.2 669.4 270.2 673.2C270.2 677.1 274.2 681 277.6 683M255.600 683C259 685.5 263 690.6 263 695.8C263 700.9 259 706 255.6 708.5M277.600 683C274.2 685.5 270.2 690.6 270.2 695.8C270.2 700.9 274.2 706 277.6 708.5M255.600 708.5C259 711 263 715.9 263 720.8C263 725.6 259 730.5 255.6 733M277.600 708.5C274.2 711 270.2 715.9 270.2 720.8C270.2 725.6 274.2 730.5 277.6 733" fill="#1a84e8" stroke="#1472e2" stroke-width="1.5" opacity=".9"/><path d="M255.600 663.5C259 665.5 263 669.4 263 673.2C263 677.1 259 681 255.6 683M277.600 663.5C274.2 665.5 270.2 669.4 270.2 673.2C270.2 677.1 274.2 681 277.6 683M255.600 683C259 685.5 263 690.6 263 695.8C263 700.9 259 706 255.6 708.5M277.600 683C274.2 685.5 270.2 690.6 270.2 695.8C270.2 700.9 274.2 706 277.6 708.5M255.600 708.5C259 711 263 715.9 263 720.8C263 725.6 259 730.5 255.6 733M277.600 708.5C274.2 711 270.2 715.9 270.2 720.8C270.2 725.6 274.2 730.5 277.6 733" fill="none" stroke="#2ba6f6" stroke-width=".9" transform="translate(0 -1.1)" opacity=".9"/></g><path d="M266.400 731.3C270 731.3 273.2 733.600 273.2 737V744.3C273.2 747.7 270 750 266.4 750C262.8 750 259.6 747.7 259.6 744.3V737C259.6 733.6 262.8 731.3 266.4 731.3Z" fill="#fff" stroke="#1263e2" stroke-width="1.3"/><path d="M257.5 744C258 752 275 752 275.5 744" fill="none" stroke="#2ba0f4" stroke-width="1" opacity=".8"/></g>
<g id="brushR"><g filter="url(#b0)"><path d="M673.5 429L667.3 434L668.300 578L675.4 584L680.5 578L679.5 434Z" fill="#a5f0fb" opacity=".5"/><path d="M673.5 430.2L672.5 430.9L671.4 430.7L670.5 431.3L669.4 430.9L668.4 431.2L671.7 431.7L668.8 432.3L671.5 432.8L669.3 433.1L670.4 433.4L671.5 433L672.5 433.5L673.5 433.8ZM673.6 435.7L671.8 435.8L669.8 435.7L668.1 436.2L666.2 436.6L664.4 436.7L666.7 437.2L665.4 437.8L668 438.3L666 438.3L668.1 438.2L669.9 439.2L671.8 438.9L673.6 439.3ZM673.7 441.2L671.6 441.7L669.6 441.3L667.6 441.6L666.1 441.6L664.7 442.2L667 442.7L664.8 443.3L667.1 443.8L665.8 443.6L667.8 444.2L669.8 444.4L671.6 445L673.7 444.8ZM673.7 446.7L671.9 446.9L670 447.4L668.5 447.6L666.4 447.1L665.6 447.7L668.4 448.2L665.8 448.8L668.3 449.3L666.5 449.2L668.3 449.8L670 450.3L671.9 450.3L673.7 450.3ZM673.8 452.2L671.8 452.2L669.9 452.2L668 452.5L665.8 453L665 453.2L666.9 453.7L664 454.3L667.5 454.8L665.6 454.7L667.5 454.9L669.8 455.2L671.7 455.4L673.8 455.8ZM673.9 457.7L671.9 457.7L669.7 457.8L667.7 457.9L665.4 458.8L664.6 458.7L667.1 459.2L664.7 459.8L666.3 460.3L665.5 461L667.6 460.3L669.8 461.2L671.7 461.5L673.9 461.3ZM673.9 463.2L671.8 463.5L669.9 464.1L668 464.1L665.7 463.6L664.3 464.2L666.7 464.7L664.8 465.3L668 465.8L665.9 465.8L667.7 466.6L669.8 466.4L671.9 467.1L673.9 466.8ZM674 468.7L672.1 468.9L670.2 469.4L668.4 469.6L666.3 469.7L664.8 469.7L667.6 470.2L665.6 470.8L668 471.3L666.5 471.5L668.4 471.4L670.2 472.2L672.1 472.4L674 472.3ZM674.1 474.2L672.4 474L670.6 474.6L668.9 474.7L667.1 475.3L665.2 475.2L668 475.7L665.1 476.3L667.9 476.8L667.1 476.6L668.9 477.7L670.6 477.8L672.3 477.6L674.1 477.8ZM674.1 479.7L672.3 480.3L670.4 480.4L668.5 480.6L666.5 480.5L665.5 480.7L667.1 481.2L665.6 481.8L667.1 482.3L666.5 482.2L668.3 482.6L670.4 482.6L672.2 483.6L674.1 483.3ZM674.2 485.2L672.3 485.6L670.4 485.8L668.6 485.6L667 486.2L665.3 486.2L668 486.7L666 487.3L668.7 487.8L666.7 487.9L668.4 488.6L670.5 488.6L672.3 488.9L674.2 488.8ZM674.3 490.7L672.4 491.3L670.3 491.1L668.2 491.1L666.1 491.6L665.2 491.7L667.2 492.2L665.2 492.8L668.3 493.3L666.2 493.4L668.1 493.7L670.3 493.5L672.2 494.5L674.3 494.3ZM674.4 496.2L672.4 496.8L670.6 496.8L669 496.3L667.1 496.9L665.3 497.2L667.8 497.7L666.2 498.3L667.4 498.8L666.6 498.7L668.8 499.6L670.5 499.2L672.5 499.5L674.4 499.8ZM674.4 501.7L672.5 502.3L670.6 501.9L668.4 502.7L666.2 502.9L665.2 502.7L668.7 503.2L664.9 503.8L668.5 504.3L666.2 504.9L668.5 504.7L670.4 505.2L672.4 505L674.4 505.3ZM674.5 507.2L672.5 507.5L670.6 508L669.1 507.8L667.3 508.5L666.1 508.2L667.8 508.7L665.7 509.3L669.1 509.8L666.9 510.4L668.8 510.3L670.7 510.5L672.7 510.2L674.5 510.8ZM674.6 512.7L672.6 513.3L670.5 513L668.4 513.7L666.8 513L665.1 513.7L668.6 514.2L665.8 514.8L668.1 515.3L666.9 515L668.6 516.1L670.5 516.1L672.5 515.8L674.6 516.3ZM674.6 518.2L672.8 518.8L670.8 518.8L669.3 518.8L667.2 518.7L665.6 519.2L668.5 519.7L666 520.3L668.6 520.8L667.6 521.4L668.9 521.6L670.9 521.3L672.8 521.3L674.6 521.8ZM674.7 523.7L672.8 523.9L671 524.1L669.2 524.2L667.3 524.1L666.5 524.7L669.1 525.2L666.2 525.8L669 526.3L667.1 526.6L669.1 527L671 526.4L672.8 527.1L674.7 527.3ZM674.8 529.2L672.9 529.9L671.1 529.9L669.3 529.6L667.5 529.5L666.2 530.2L669.4 530.7L666.5 531.3L669.7 531.8L667.7 531.7L669.3 532.3L671 531.9L672.9 532.2L674.8 532.8ZM674.8 534.7L672.7 534.6L670.6 534.6L668.7 535.5L666.7 535.6L665 535.7L667.4 536.2L665.8 536.8L667.6 537.3L666.9 537.2L668.9 537.5L670.7 537.6L672.8 537.7L674.8 538.3ZM674.9 540.2L672.9 540.8L671.1 540.5L669.1 540.9L666.8 541L666.1 541.2L667.4 541.7L665.2 542.3L668.3 542.8L666.9 543.2L669.1 543.3L670.9 543.8L672.9 544L674.9 543.8ZM675 545.7L673 545.7L671.1 546.2L668.9 546.7L666.9 546.5L665.5 546.7L667.8 547.2L666 547.8L667.8 548.3L667.3 548.3L669.2 548.9L671.3 549L673.1 549L675 549.3ZM675 551.2L673.2 551.2L671.3 551.8L669.3 551.4L667.4 552.3L666.6 552.2L669.2 552.7L665.9 553.3L669.4 553.8L667.3 553.8L669.3 554.6L671.4 554.4L673.2 554.1L675 554.8ZM675.1 556.7L673.3 556.6L671.2 556.9L669.3 556.9L667.8 557.6L665.8 557.7L668.6 558.2L666.6 558.8L669 559.3L667.8 559.1L669.6 559.8L671.4 559.9L673.3 559.9L675.1 560.3ZM675.2 562.2L673.3 562.7L671.3 562.6L669.1 562.8L667.5 563.3L665.6 563.2L669.1 563.7L666.2 564.3L669.6 564.8L667.6 565.4L669.3 564.9L671.4 565.1L673.3 565.8L675.2 565.8ZM675.2 567.7L673.3 568.1L671.4 567.8L669.4 568.8L667.3 568.2L666.6 568.7L668.2 569.2L666.2 569.8L669.4 570.3L667.2 570.7L669.5 571.2L671.5 571L673.3 571L675.2 571.3ZM675.3 573.2L673.9 573.5L672.5 573.6L671 574.1L669.4 573.7L668.8 574.2L671.7 574.7L669 575.3L671.7 575.8L669.6 576.3L670.8 576.3L672.4 576.4L673.9 577.1L675.3 576.8ZM675.4 578.7L673.8 579L672.3 579.6L670.7 579.5L669.1 579.8L668.3 579.7L669.8 580.2L668.6 580.8L670.7 581.3L669.1 581.2L670.8 581.4L672.4 581.7L673.8 581.8L675.4 582.3Z" fill="#45e2fa" opacity=".85"/><path d="M673.5 431.6L674.6 431.8L675.5 431.5L676.7 432.3L677.8 432.3L679.3 432.3L675.4 432.8L678.8 433.2L675.5 433.7L677.6 433.6L676.7 433.6L675.7 434.4L674.6 434.2L673.5 434.4ZM673.6 437.1L675.5 436.9L677.3 437.2L679.5 438L681.1 437.8L682 437.8L680.1 438.3L682.8 438.7L680 439.2L681 439.4L679.5 439.8L677.3 439.8L675.6 439.2L673.6 439.9ZM673.7 442.6L675.6 442.5L677.6 442.9L679.6 442.9L681.4 443.3L683 443.3L680.8 443.8L683.1 444.2L679.4 444.7L682 444.6L679.5 444.8L677.5 445.1L675.7 445L673.7 445.4ZM673.7 448.1L675.6 448.6L677.6 448.1L679.3 448.5L681.5 448.6L681.9 448.8L679.2 449.3L682.7 449.7L679.6 450.2L681.4 449.8L679.4 450.6L677.5 450.9L675.6 451.2L673.7 450.9ZM673.8 453.6L676 453.3L678 453.9L680.4 454.2L682.7 454L684.3 454.3L681.8 454.8L684.2 455.2L681 455.7L682.5 455.8L680.3 455.7L678.2 455.8L676 456.6L673.8 456.4ZM673.9 459.1L675.8 459L677.5 459L679.5 459.4L681.6 460L682.8 459.8L680.2 460.3L682.7 460.7L680 461.2L681.6 461.1L679.6 461.5L677.6 461.6L675.7 461.6L673.9 461.9ZM673.9 464.6L676 465.3L678.3 464.9L680.3 465.4L682.6 465.5L683.8 465.3L681.3 465.8L683.8 466.2L680.4 466.7L682.8 467.1L680.3 466.9L678.4 467.2L676.1 467.2L673.9 467.4ZM674 470.1L676 469.9L678.1 470.6L680.4 470.2L682.6 470.9L683.5 470.8L680.8 471.3L683 471.7L680.4 472.2L682.5 471.8L680.1 472.1L678 472.9L676.1 472.4L674 472.9ZM674.1 475.6L676 476.3L678 476.2L680 476L681.6 475.8L682.8 476.3L681.1 476.8L683 477.2L681.1 477.7L681.5 478L679.8 477.9L678 478.2L676 478.2L674.1 478.4ZM674.1 481.1L676.2 480.9L678.4 481.3L680.7 481.8L682.9 482.1L683.9 481.8L681.4 482.3L683.8 482.7L680.9 483.2L682.6 483L680.5 483.1L678.3 483.7L676.3 483.2L674.1 483.9ZM674.2 486.6L676.3 486.4L678.5 486.5L680.7 486.7L682.9 487.7L684 487.3L682 487.8L684.1 488.2L682.1 488.7L682.7 489.1L680.6 488.7L678.4 488.7L676.3 489.4L674.2 489.4ZM674.3 492.1L676.4 492L678.4 492.8L680.7 492.5L682.5 493L684.3 492.8L680.6 493.3L684 493.7L680.7 494.2L682.7 494.5L680.3 494.4L678.6 494.7L676.5 494.8L674.3 494.9ZM674.4 497.6L676.4 497.3L678.3 498.2L680.4 498.2L682.5 498.6L683.7 498.3L681.6 498.8L684 499.2L681.4 499.7L682 499.5L680.2 499.7L678.3 499.9L676.3 500.4L674.4 500.4ZM674.4 503.1L676.3 503.7L678.3 503L680 503.7L682 503.3L683.7 503.8L680.4 504.3L683 504.7L680.6 505.2L681.9 505.4L680.3 505.5L678.1 505.4L676.4 505.9L674.4 505.9ZM674.5 508.6L676.6 508.6L678.9 509.2L680.8 509.4L683.3 508.8L684.4 509.3L681.1 509.8L684.8 510.2L682.5 510.7L683.3 510.3L681 510.7L679 511.1L676.8 511.2L674.5 511.4ZM674.6 514.1L676.5 514L678.5 514.4L680.4 514.2L682.7 514.9L683.6 514.8L681.8 515.3L684.1 515.7L682.1 516.2L682.8 516.5L680.8 516.1L678.7 516.6L676.5 517L674.6 516.9ZM674.6 519.6L676.6 519.7L678.6 520.5L680.3 520.5L682.3 520.2L683.4 520.3L680.8 520.8L683.6 521.2L681.6 521.7L682.4 521.4L680.3 521.8L678.6 522.3L676.6 522.2L674.6 522.4ZM674.7 525.1L676.8 525.5L678.9 525.6L680.6 525.8L683 525.3L684.3 525.8L681.2 526.3L684.3 526.7L681.6 527.2L682.7 527.3L680.6 527.7L678.6 527.6L676.7 527.5L674.7 527.9ZM674.8 530.6L676.9 530.3L679.1 530.7L681.1 531.5L683.2 530.8L684.2 531.3L681.5 531.8L684.1 532.2L682.3 532.7L683.1 532.7L680.9 533.4L679.2 532.7L676.8 533.2L674.8 533.4ZM674.8 536.1L676.7 536.7L678.6 536.1L680.8 536.4L682.5 536.7L683.8 536.8L682 537.3L684.1 537.7L680.5 538.2L682.3 538.6L680.8 538.5L678.7 538.5L676.8 539.1L674.8 538.9ZM674.9 541.6L677 542L679.1 541.8L681.4 541.9L683.4 542.3L685.4 542.3L682.7 542.8L685.3 543.2L682.7 543.7L683.8 543.5L681.4 544L679 544.1L677 544.3L674.9 544.4ZM675 547.1L677.1 547.2L679.4 547.8L681.2 547.6L683.5 547.3L685.3 547.8L682.6 548.3L684.3 548.7L682.6 549.2L683.8 548.9L681.4 549.4L679.3 549.8L677.1 549.8L675 549.9ZM675 552.6L677 553.2L678.7 553.1L680.9 552.7L682.5 553.6L684 553.3L680.4 553.8L684.1 554.2L680.8 554.7L682.7 555.1L680.6 554.6L679 554.8L677 554.9L675 555.4ZM675.1 558.1L677.1 558.1L679.3 558.9L681.4 558.6L683.5 558.8L684 558.8L681.9 559.3L685.1 559.7L682.2 560.2L683.1 559.8L681.1 560L679.3 560.5L677.1 560.5L675.1 560.9ZM675.2 563.6L677.3 563.7L679.3 563.5L681.5 564.3L683.7 564L684.3 564.3L682.6 564.8L684.3 565.2L682.7 565.7L683.6 565.9L681.3 566.4L679.2 565.8L677.3 566.4L675.2 566.4ZM675.2 569.1L677.4 569.3L679.5 569.8L681.4 569.1L683.4 569.7L685.1 569.8L682.6 570.3L684.9 570.7L682.7 571.2L683.5 571.7L681.6 571.4L679.4 571.2L677.3 572L675.2 571.9ZM675.3 574.6L677 575.3L678.7 574.5L680.7 574.8L682.1 575.5L683.9 575.3L681.2 575.8L683 576.2L680.4 576.7L682 577L680.5 577.1L678.7 577L677.1 576.8L675.3 577.4ZM675.4 580.1L677 580.5L678.5 580.4L680.2 580.4L681.8 580.5L683.3 580.8L680.7 581.3L682.5 581.7L680.6 582.2L682 581.8L680.1 582L678.5 582.3L677 582.6L675.4 582.9Z" fill="#14dcfb" opacity=".95"/><path d="M673.5 430L675.4 583" stroke="#1ccdf2" stroke-width="3.4" fill="none"/></g><g filter="url(#b00)"><path d="M672.2 428.2L674.9 431.8M672.3 433.8L675 437.2M672.3 439.2L675 442.8M672.4 444.8L675.1 448.2M672.5 450.2L675.2 453.8M672.5 455.8L675.2 459.2M672.6 461.2L675.3 464.8M672.7 466.8L675.4 470.2M672.7 472.2L675.4 475.8M672.8 477.8L675.5 481.2M672.9 483.2L675.6 486.8M672.9 488.8L675.6 492.2M673 494.2L675.7 497.8M673.1 499.8L675.8 503.2M673.1 505.2L675.8 508.8M673.2 510.8L675.9 514.2M673.3 516.2L676 519.8M673.3 521.8L676 525.2M673.4 527.2L676.1 530.8M673.5 532.8L676.2 536.2M673.5 538.2L676.2 541.8M673.6 543.8L676.3 547.2M673.7 549.2L676.4 552.8M673.8 554.8L676.5 558.2M673.8 560.2L676.5 563.8M673.9 565.8L676.6 569.2M674 571.2L676.7 574.8M674 576.8L676.7 580.2M674.1 581.8L676.8 585.2" stroke="#3d4048" stroke-width="2.7" fill="none" stroke-linecap="round"/><path d="M672.2 428.2L674.9 431.8M672.3 433.8L675 437.2M672.3 439.2L675 442.8M672.4 444.8L675.1 448.2M672.5 450.2L675.2 453.8M672.5 455.8L675.2 459.2M672.6 461.2L675.3 464.8M672.7 466.8L675.4 470.2M672.7 472.2L675.4 475.8M672.8 477.8L675.5 481.2M672.9 483.2L675.6 486.8M672.9 488.8L675.6 492.2M673 494.2L675.7 497.8M673.1 499.8L675.8 503.2M673.1 505.2L675.8 508.8M673.2 510.8L675.9 514.2M673.3 516.2L676 519.8M673.3 521.8L676 525.2M673.4 527.2L676.1 530.8M673.5 532.8L676.2 536.2M673.5 538.2L676.2 541.8M673.6 543.8L676.3 547.2M673.7 549.2L676.4 552.8M673.8 554.8L676.5 558.2M673.8 560.2L676.5 563.8M673.9 565.8L676.6 569.2M674 571.2L676.7 574.8M674 576.8L676.7 580.2M674.1 581.8L676.8 585.2" stroke="#fbe9df" stroke-width="1.45" fill="none" stroke-linecap="round"/></g><g filter="url(#b00)"><path d="M675.4 585L675.7 620" stroke="#f4f4f4" stroke-width="2" fill="none" opacity=".75"/><path d="M674.3 585.2L676.8 587.5M674.3 588.3L676.8 590.6M674.4 591.4L676.9 593.7M674.4 594.5L676.9 596.8M674.4 597.6L676.9 599.9M674.4 600.7L676.9 603M674.5 603.8L677 606.1M674.5 606.9L677 609.2M674.5 610L677 612.3M674.5 613.1L677 615.4M674.6 616.2L677.1 618.5M674.6 619.3L677.1 621.6" stroke="#f4f4f4" stroke-width="0.9" fill="none" stroke-linecap="round"/><path d="M673.7 583.7L677.1 586.3M673.7 586.8L677.1 589.4M673.8 589.9L677.2 592.5M673.8 593L677.2 595.6M673.8 596.1L677.2 598.7M673.8 599.2L677.2 601.8M673.9 602.3L677.3 604.9M673.9 605.4L677.3 608M673.9 608.5L677.3 611.1M673.9 611.6L677.3 614.2M674 614.7L677.4 617.3M674 617.8L677.4 620.4" stroke="#121212" stroke-width="1.1" fill="none"/></g><path d="M670.8 619.4Q669.6 619.4 668.7 620.3L659 632.2Q658.4 633 658.3 634.2C657.97 639.63 658.13 638.3 657.3 650.5C656.47 662.7 657 657.63 655.8 670.8C654.6 683.97 655.07 680.17 653.7 690C652.33 699.83 653.37 690.13 651.7 700.3C650.03 710.47 650.2 709.7 648.7 720.5C647.2 731.3 647.5 725.93 647.2 732.7C646.9 739.47 646.2 735.5 647.8 740.8C649.4 746.1 647.27 744.33 652 748.6C656.73 752.87 654.17 751.3 662 753.6C669.83 755.9 666.5 755.5 675.5 755.5C684.5 755.5 681.63 755.9 689 753.6C696.37 751.3 693.33 752.87 697.6 748.6C701.87 744.33 700.13 746.1 701.8 740.8C703.47 735.5 702.93 739.47 702.6 732.7C702.27 725.93 702.23 731.3 700.8 720.5C699.37 709.7 699.57 710.47 698.3 700.3C697.03 690.13 697.83 699.83 697 690C696.17 680.17 696.57 683.97 695.8 670.8C695.03 657.63 695.43 662.5 694.7 650.5C693.97 638.5 693.97 640.03 693.6 634.8Q693.5 633 692.9 632.2L682.3 620.3Q681.4 619.4 680.2 619.4Z" fill="url(#hR)"/><path d="M676.500 649.5C683 649.5 686.5 656 687.3 668C688 680 687.5 688 685.5 692C683.500 696 679 696.800 676.5 696.8C674 696.8 669.5 696 667.5 692C665.5 688 665 680 665.7 668C666.5 656 670 649.5 676.5 649.5Z" fill="#1576e3" opacity=".75"/><g filter="url(#b00)"><path d="M671.8 656.5Q674.2 654.8 676.6 656.4T681.4 656M669.8 663.2Q673.2 661.5 676.6 663.1T683.4 662.7M668.3 669.8Q672.5 668.1 676.6 669.7T684.9 669.3M667.4 676.7Q672 675 676.6 676.6T685.8 676.2M667.2 683.4Q671.9 681.7 676.6 683.3T686 682.9M668.4 689.8Q672.5 688.1 676.6 689.7T684.8 689.3" fill="none" stroke="#27b2fa" stroke-width="2" stroke-linecap="round"/></g><g filter="url(#b00)"><ellipse cx="676" cy="740.6" rx="22.3" ry="11.8" fill="#2292f0" stroke="#0e62e4" stroke-width="1.5"/></g><ellipse cx="675.5" cy="740.8" rx="14.6" ry="6.2" fill="#fff"/></g>
<path d="M201 341.500H255M201 443.6H264M201 603.2H264M609.5 450.5H664M609.5 593.5H673M609.5 712.500H672" stroke="#1a96f0" stroke-width="2.2" fill="none"/>
<circle cx="255.5" cy="341.5" r="3.5" fill="#050505" stroke="#129cf3" stroke-width="1.8"/>
<circle cx="264.4" cy="443.8" r="3.5" fill="#050505" stroke="#129cf3" stroke-width="1.8"/>
<circle cx="264.4" cy="603.3" r="2.800" fill="#050505"/>
<circle cx="664.4" cy="450.5" r="3.5" fill="#050505" stroke="#129cf3" stroke-width="1.8"/>
<circle cx="673" cy="593.3" r="3.5" fill="#050505" stroke="#129cf3" stroke-width="1.8"/>
<circle cx="673" cy="712.4" r="2.800" fill="#050505"/>
</svg>
<h1 class="t">产品规格</h1>
<div class="t lab" style="left:105px;top:332.5px">螺旋毛刷</div>
<div class="t lab" style="left:57px;top:433.5px">不锈钢弹性杆</div>
<div class="t lab" style="left:75.5px;top:591px"><span class="pp">PP</span>防滑手柄</div>
<div class="t dim" style="left:243.5px;top:194px">4cm</div>
<div class="t dim" style="left:284.5px;top:429px">39cm</div>
<div class="t lab" style="left:514px;top:442px">螺旋毛刷</div>
<div class="t lab" style="left:466px;top:583px">不锈钢弹性杆</div>
<div class="t lab" style="left:484.3px;top:700px"><span class="pp">PP</span>防滑手柄</div>
<div class="t dim" style="left:642.5px;top:374px">1.8cm</div>
<div class="t dim" style="left:694.3px;top:516px">14cm</div>
<div class="pill" style="left:72px;top:803px"><span class="t2">水袋长毛刷</span></div>
<div class="pill" style="left:479px;top:803px"><span class="t2">水嘴小刷子</span></div>
</div>
</body>
</html>
